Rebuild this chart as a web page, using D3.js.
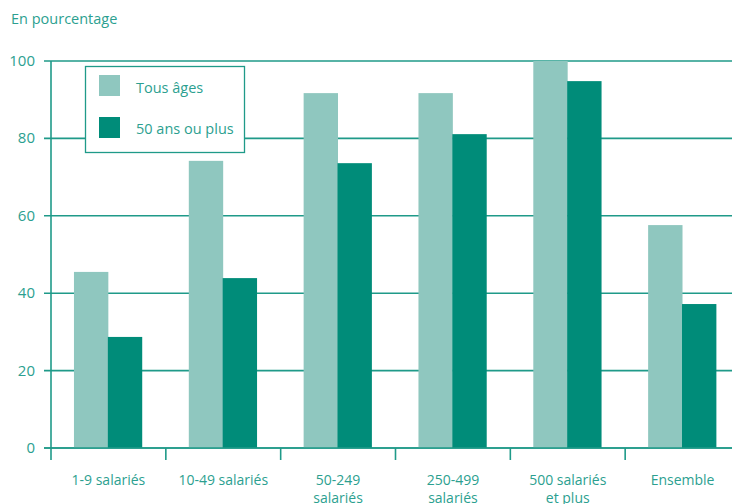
<!DOCTYPE html>
<html><head><meta charset="utf-8">
<script src="https://cdn.jsdelivr.net/npm/d3@7"></script>
<style>
html,body{margin:0;padding:0;background:#fff;overflow:hidden}
text{font-family:"Open Sans",sans-serif;fill:#2c9f90}
</style></head>
<body><svg id="c" width="732" height="504"></svg>
<script>
const categories = [["1-9 salariés"],["10-49 salariés"],["50-249","salariés"],["250-499","salariés"],["500 salariés","et plus"],["Ensemble"]];
const seriesNames = ["Tous âges","50 ans ou plus"];
const tousAges = [45.5, 74.2, 91.7, 91.7, 100, 57.6];
const cinquantePlus = [28.7, 43.9, 73.6, 81.1, 94.8, 37.2];
const yTicks = [0,20,40,60,80,100];
const colors = ["#8fc7bf","#008c79"];
const lineColor = "#1f9a89";

const svg = d3.select("#c");
const keys = categories.map(c=>c.join(" "));
const x0 = d3.scaleBand().domain(keys).range([51,740]).padding(0);
const x1 = d3.scaleBand().domain(seriesNames).range([x0.bandwidth()*0.2, x0.bandwidth()*0.79]);
const y = d3.scaleLinear().domain([0,100]).range([448,61]);

svg.append("text").attr("x",11).attr("y",24).attr("font-size",14.5).text("En pourcentage");

// gridlines
svg.append("g").selectAll("line").data(yTicks).join("line")
  .attr("x1",44).attr("x2",740).attr("y1",d=>y(d)).attr("y2",d=>y(d))
  .attr("stroke",lineColor).attr("stroke-width",1.6);
svg.append("g").selectAll("text").data(yTicks).join("text")
  .attr("x",35).attr("y",d=>y(d)+5).attr("text-anchor","end").attr("font-size",15).text(d=>d);

// bars
const data = keys.map((k,i)=>({k, vals:[tousAges[i], cinquantePlus[i]]}));
const g = svg.append("g").selectAll("g").data(data).join("g")
  .attr("transform",d=>`translate(${x0(d.k)},0)`);
g.selectAll("rect").data(d=>d.vals.map((v,j)=>({s:seriesNames[j],v,j}))).join("rect")
  .attr("x",d=>x1(d.s)).attr("width",x1.bandwidth()+0.5)
  .attr("y",d=>y(d.v)).attr("height",d=>y(0)-y(d.v))
  .attr("fill",d=>colors[d.j]);

// axis line + ticks
svg.append("line").attr("x1",51).attr("x2",51).attr("y1",y(100)).attr("y2",460)
  .attr("stroke",lineColor).attr("stroke-width",1.6);
svg.append("line").attr("x1",44).attr("x2",740).attr("y1",y(0)).attr("y2",y(0))
  .attr("stroke",lineColor).attr("stroke-width",1.6);
svg.append("g").selectAll("line").data(keys.slice(1)).join("line")
  .attr("x1",d=>x0(d)).attr("x2",d=>x0(d)).attr("y1",y(0)).attr("y2",460)
  .attr("stroke",lineColor).attr("stroke-width",1.6);

// x labels
const lab = svg.append("g").selectAll("text").data(categories).join("text")
  .attr("x",(d,i)=>x0(keys[i])+x0.bandwidth()/2).attr("y",485)
  .attr("text-anchor","middle").attr("font-size",14);
lab.selectAll("tspan").data(d=>d).join("tspan")
  .attr("x",function(){return this.parentNode.getAttribute("x");})
  .attr("dy",(d,i)=>i===0?0:18).text(d=>d);

// legend
const lg = svg.append("g");
lg.append("rect").attr("x",85.5).attr("y",66.5).attr("width",159).attr("height",86)
  .attr("fill","#fff").attr("stroke",lineColor).attr("stroke-width",1.3);
seriesNames.forEach((s,i)=>{
  lg.append("rect").attr("x",99).attr("y",75+i*42).attr("width",21).attr("height",21).attr("fill",colors[i]);
  lg.append("text").attr("x",136).attr("y",93+i*41).attr("font-size",14.5).text(s);
});
</script></body></html>
